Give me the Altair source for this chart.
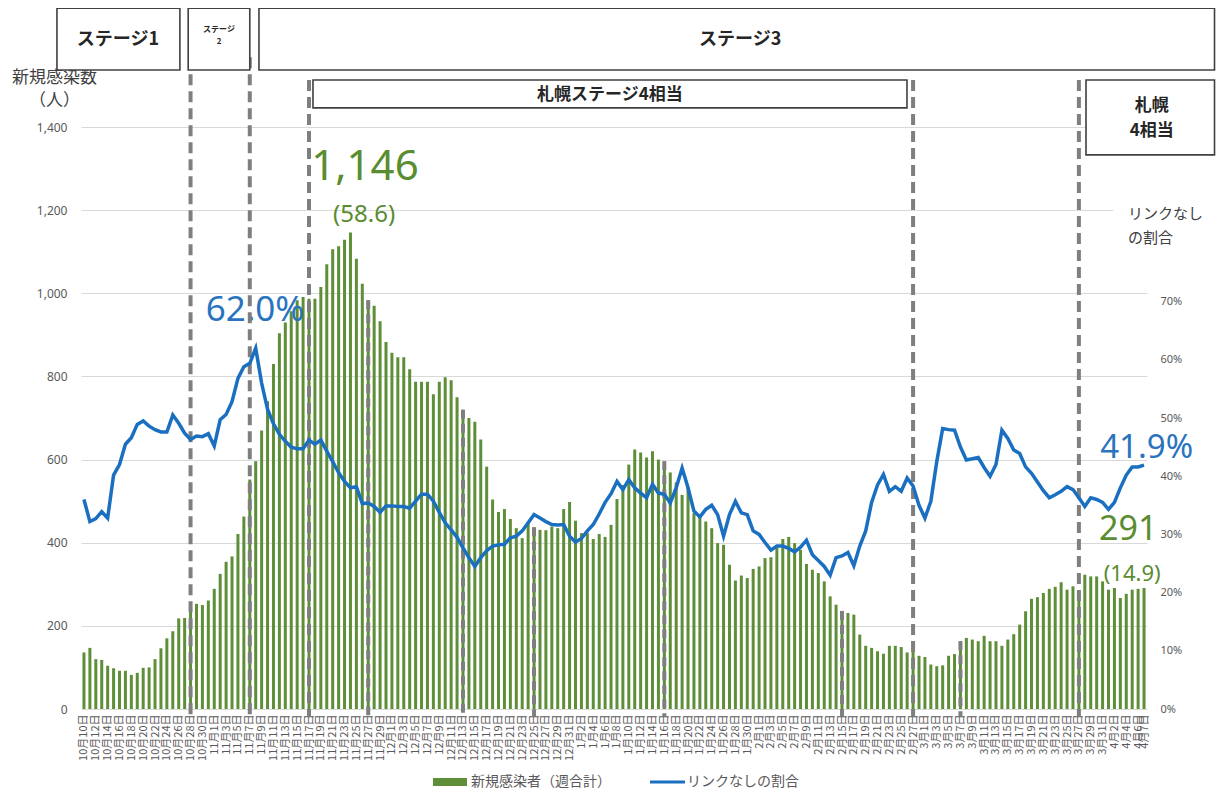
import altair as alt
import pandas as pd

# ---------------- data ----------------
START = pd.Timestamp("2020-10-10")

# new infections (weekly total), one value per day from 10/10 to 4/7
new_cases = [
    136, 147, 120, 118, 104, 98, 92, 92, 82, 87,
    99, 100, 120, 146, 170, 187, 218, 219, 242, 253,
    250, 261, 289, 325, 354, 367, 421, 463, 552, 596,
    670, 740, 830, 904, 930, 957, 983, 991, 987, 987,
    1015, 1070, 1106, 1113, 1129, 1146, 1083, 1023, 983, 970,
    933, 883, 857, 846, 846, 817, 787, 787, 787, 757,
    787, 798, 791, 750, 720, 700, 691, 648, 583, 504,
    474, 481, 457, 435, 411, 449, 437, 431, 430, 439,
    435, 481, 498, 453, 423, 423, 409, 421, 414, 443,
    505, 539, 588, 624, 617, 605, 620, 600, 596, 569,
    545, 515, 534, 471, 467, 451, 435, 399, 395, 347,
    309, 321, 315, 337, 343, 363, 365, 389, 409, 414,
    399, 383, 349, 335, 327, 307, 271, 251, 236, 231,
    227, 179, 152, 147, 139, 133, 152, 152, 149, 136,
    141, 128, 125, 107, 103, 105, 128, 132, 163, 171,
    167, 163, 176, 163, 163, 152, 167, 180, 203, 235,
    265, 269, 279, 289, 294, 305, 287, 295, 283, 323,
    319, 319, 307, 287, 291, 267, 277, 287, 289, 291,
]

# share of cases with unknown link (%)
unlinked_pct = [
    36.0, 32.2, 32.7, 33.9, 32.8, 40.2, 42.0, 45.5, 46.6, 48.9,
    49.5, 48.6, 48.0, 47.6, 47.6, 50.5, 49.1, 47.4, 46.3, 46.9,
    46.8, 47.3, 45.2, 49.7, 50.6, 52.8, 56.8, 58.8, 59.4, 62.0,
    56.0, 51.5, 49.0, 47.2, 46.0, 45.0, 44.7, 44.7, 46.2, 45.5,
    46.2, 44.3, 42.5, 40.6, 39.1, 38.0, 38.2, 35.3, 35.4, 34.8,
    33.8, 34.9, 34.9, 34.8, 34.8, 34.5, 35.7, 36.9, 36.9, 35.7,
    33.8, 32.0, 30.8, 29.5, 27.7, 26.0, 24.5, 26.0, 27.2, 28.0,
    28.2, 28.3, 29.4, 29.7, 30.6, 32.0, 33.4, 32.8, 32.2, 31.7,
    31.6, 31.7, 29.7, 28.7, 29.3, 30.6, 31.7, 33.5, 35.5, 37.0,
    39.1, 37.7, 39.4, 38.0, 37.1, 36.3, 38.6, 37.1, 36.9, 35.4,
    38.0, 41.4, 38.0, 34.0, 33.0, 34.3, 35.0, 33.4, 29.7, 33.4,
    35.7, 33.7, 33.4, 30.6, 30.0, 28.6, 27.3, 28.0, 28.0, 27.6,
    27.0, 27.8, 29.0, 26.5, 25.5, 24.5, 23.0, 26.0, 26.3, 26.9,
    24.6, 28.0, 30.6, 35.5, 38.5, 40.3, 37.4, 38.2, 37.4, 39.7,
    38.3, 35.0, 32.8, 35.7, 42.5, 48.2, 48.0, 47.9, 45.0, 42.8,
    43.0, 43.2, 41.5, 40.0, 42.0, 47.9, 46.5, 44.5, 43.9, 41.6,
    40.5, 39.0, 37.5, 36.3, 36.8, 37.4, 38.2, 37.7, 36.3, 34.8,
    36.3, 36.0, 35.5, 34.3, 35.5, 38.0, 40.2, 41.6, 41.6, 41.9,
]

# days drawn as grey dashed bars
marked_days = ["2020-11-27", "2020-12-13", "2020-12-25", "2021-01-16",
               "2021-02-15", "2021-03-07"]

# stage change lines
stage_line_days = ["2020-10-28", "2020-11-07", "2020-11-17", "2021-02-27", "2021-03-27"]
stage_line_tops = [1568, 1568, 1513, 1513, 1513]

# annotation texts
big_labels = ["62.0%", "1,146", "(58.6)"]
end_labels = ["41.9%", "291", "(14.9)"]

legend_labels = ["新規感染者（週合計）", "リンクなしの割合"]

# ---------------- styling ----------------
GREEN = "#5e8f38"
GREEN_TXT = "#5a8c30"
BLUE = "#1a6fc0"
BLUE_TXT = "#2a74bf"
GRAY = "#7f7f7f"
BOX = "#404040"
TXT = "#404040"
AX = "#595959"
JP = "Noto Sans CJK JP"
NUM = "Noto Sans"

dates = pd.date_range(START, periods=len(new_cases), freq="D")
df = pd.DataFrame({"date": dates, "cases": new_cases, "pct": unlinked_pct})
marked_df = df[df["date"].isin(pd.to_datetime(marked_days))]
lines_df = pd.DataFrame({"date": pd.to_datetime(stage_line_days), "top": stage_line_tops})


def day(offset):
    return START + pd.Timedelta(days=offset)


X_DOMAIN = [alt.DateTime(year=2020, month=10, date=9, hours=12),
            alt.DateTime(year=2021, month=4, date=7, hours=12)]

tick_dates = list(dates[::2]) + [dates[-1]]
tick_vals = [alt.DateTime(year=d.year, month=d.month, date=d.day) for d in tick_dates]


def xs():
    return alt.Scale(domain=X_DOMAIN, padding=0)


def ys():
    return alt.Scale(domain=[0, 1400], padding=0)


def xaxis():
    # identical in every layer so the shared x axis merges cleanly
    return alt.Axis(values=tick_vals, format="%-m月%-d日", labelAngle=270,
                    labelOverlap=False, labelFlush=False, grid=False,
                    domain=False, ticks=False, labelPadding=5,
                    labelFontSize=11, labelColor=AX, labelFont=JP, title=None)


def X(field):
    return alt.X(field, scale=xs(), axis=xaxis())


# ---------------- layers on the left (count) scale ----------------
bars = alt.Chart(df).mark_bar(size=3, color=GREEN).encode(
    x=X("date:T"),
    y=alt.Y("cases:Q", scale=ys(),
            axis=alt.Axis(values=list(range(0, 1401, 200)), format=",d", grid=True,
                          gridColor="#d9d9d9", gridWidth=1, domain=False, ticks=False,
                          labelPadding=14, labelFontSize=12, labelColor=AX, labelFont=NUM,
                          title=["新規感染数", "（人）"], titleAngle=0, titleAlign="center",
                          titleBaseline="top", titleX=-27, titleY=-58, titleFontSize=17,
                          titleFontWeight="normal", titleColor=TXT, titleFont=JP,
                          titleLineHeight=23)),
)

marked = alt.Chart(marked_df).mark_rule(color=GRAY, strokeWidth=4, strokeDash=[9, 5]).encode(
    x=X("date:T"),
    y=alt.Y("cases:Q", scale=ys(), axis=None),
    y2=alt.datum(-17),
)

stage_lines = alt.Chart(lines_df).mark_rule(color=GRAY, strokeWidth=4, strokeDash=[11, 6]).encode(
    x=X("date:T"),
    y=alt.Y("top:Q", scale=ys(), axis=None),
    y2=alt.datum(-17),
)

boxes_df = pd.DataFrame({
    "x": [day(-4.56), day(17.6), day(29.55), day(38.67), day(169.2)],
    "x2": [day(16.2), day(28.0), day(190.9), day(138.97), day(190.9)],
    "y": [1686, 1686, 1686, 1513, 1513],
    "y2": [1537, 1537, 1537, 1446, 1333],
})
boxes = alt.Chart(boxes_df).mark_rect(fill="white", stroke=BOX, strokeWidth=1.6).encode(
    x=X("x:T"), x2="x2:T",
    y=alt.Y("y:Q", scale=ys(), axis=None), y2="y2:Q",
)

box_text_df = pd.DataFrame({
    "x": [day(5.74), day(22.8), day(22.8), day(110.8), day(88.8), day(180.3), day(180.3)],
    "y": [1609, 1633, 1604, 1609, 1477, 1450, 1390],
    "t": ["ステージ1", "ステージ", "2", "ステージ3", "札幌ステージ4相当", "札幌", "4相当"],
    "fs": [18, 8, 8, 18, 17, 17, 17],
})
box_texts = alt.Chart(box_text_df).mark_text(font=JP, fontWeight="bold", color="#262626",
                                             baseline="middle", align="center").encode(
    x=X("x:T"),
    y=alt.Y("y:Q", scale=ys(), axis=None),
    text="t:N",
    size=alt.Size("fs:Q", scale=None, legend=None),
)

# white patch behind right-axis caption
cap_patch_df = pd.DataFrame({"x": [day(173.8)], "x2": [day(179.6)], "y": [1229], "y2": [1099]})
cap_patch = alt.Chart(cap_patch_df).mark_rect(fill="white").encode(
    x=X("x:T"), x2="x2:T",
    y=alt.Y("y:Q", scale=ys(), axis=None), y2="y2:Q",
)
cap_df = pd.DataFrame({"x": [day(176.3), day(176.3)], "y": [1191, 1133],
                       "t": ["リンクなし", "の割合"]})
caption = alt.Chart(cap_df).mark_text(font=JP, fontSize=15, color=TXT, align="left",
                                      baseline="middle").encode(
    x=X("x:T"),
    y=alt.Y("y:Q", scale=ys(), axis=None),
    text="t:N",
)

ann_c_df = pd.DataFrame({
    "x": [day(28.9), day(47.45), day(47.3)],
    "y": [960, 1304, 1188],
    "t": big_labels,
    "fs": [35, 42, 24],
    "c": [BLUE_TXT, GREEN_TXT, GREEN_TXT],
})
ann_c = alt.Chart(ann_c_df).mark_text(font=NUM, align="center", baseline="middle").encode(
    x=X("x:T"),
    y=alt.Y("y:Q", scale=ys(), axis=None),
    text="t:N",
    size=alt.Size("fs:Q", scale=None, legend=None),
    color=alt.Color("c:N", scale=None, legend=None),
)
ann_l_df = pd.DataFrame({
    "x": [day(171.6), day(171.4), day(172.2)],
    "y": [628, 430, 324],
    "t": end_labels,
    "fs": [33, 34, 22],
    "c": [BLUE_TXT, GREEN_TXT, GREEN_TXT],
})
ann_l = alt.Chart(ann_l_df).mark_text(font=NUM, align="left", baseline="middle").encode(
    x=X("x:T"),
    y=alt.Y("y:Q", scale=ys(), axis=None),
    text="t:N",
    size=alt.Size("fs:Q", scale=None, legend=None),
    color=alt.Color("c:N", scale=None, legend=None),
)

# manual legend (pixel placement below the axis labels)
one = pd.DataFrame({"a": [0]})
leg_rect = alt.Chart(one).mark_rect(color=GREEN).encode(
    x=alt.value(352), x2=alt.value(386), y=alt.value(651), y2=alt.value(659))
leg_line = alt.Chart(one).mark_rule(color=BLUE, strokeWidth=3).encode(
    x=alt.value(569), x2=alt.value(604), y=alt.value(655))
leg_t1 = alt.Chart(one).mark_text(text=legend_labels[0], font=JP, fontSize=14, color=AX,
                                  align="left", baseline="middle").encode(
    x=alt.value(390), y=alt.value(655))
leg_t2 = alt.Chart(one).mark_text(text=legend_labels[1], font=JP, fontSize=14, color=AX,
                                  align="left", baseline="middle").encode(
    x=alt.value(606), y=alt.value(655))

# ---------------- right-axis layer ----------------
line = alt.Chart(df).mark_line(color=BLUE, strokeWidth=3.5).encode(
    x=X("date:T"),
    y=alt.Y("pct:Q", scale=alt.Scale(domain=[0, 100], padding=0),
            axis=alt.Axis(orient="right", values=list(range(0, 71, 10)),
                          labelExpr="datum.value + '%'", grid=False, domain=False,
                          ticks=False, labelPadding=13, labelFontSize=11, labelColor=AX,
                          labelFont=NUM, title=None)),
)

chart = alt.layer(
    bars, marked, ann_c, ann_l, stage_lines, line, boxes, box_texts,
    cap_patch, caption, leg_rect, leg_line, leg_t1, leg_t2,
).resolve_scale(y="independent").properties(
    width=1066, height=582,
    autosize=alt.AutoSizeParams(type="none"),
    padding={"left": 73, "top": 119, "right": 70, "bottom": 83},
    background="white",
).configure_view(stroke=None)

chart.save("out.html", embed_options={"renderer": "svg", "actions": False})
